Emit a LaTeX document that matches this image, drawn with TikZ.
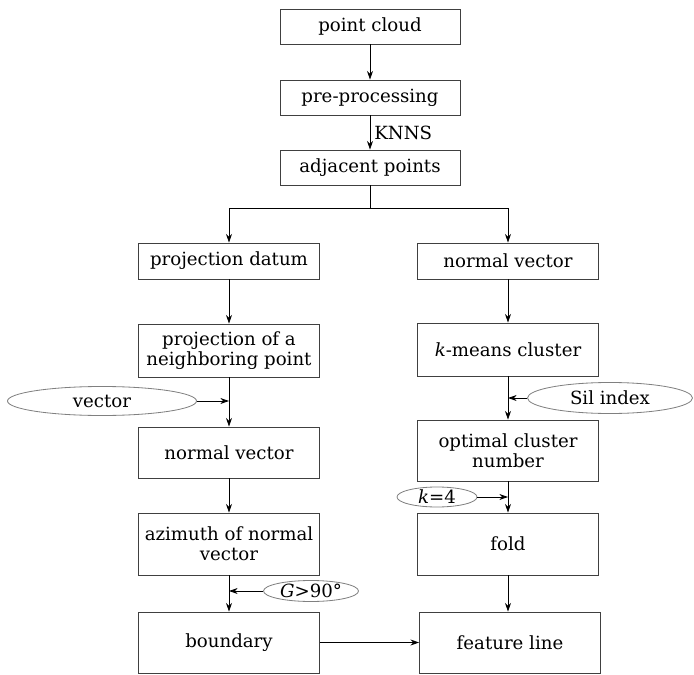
\documentclass[tikz,border=0pt]{standalone}
\usepackage{amsmath}
\usepackage{fontspec}
\setmainfont{DejaVu Serif}
\usepackage{tikz}
\usetikzlibrary{calc, arrows.meta, shapes.geometric}

\begin{document}
\begin{tikzpicture}[x=0.03cm, y=-0.03cm, line width=0.7pt,
   -{Stealth[length=2.6mm, width=1.8mm]},
   box/.style = {draw=black!75, inner sep=0pt, minimum width=5.43cm, align=center,
                 font=\fontsize{15.5}{17}\selectfont},
   oval/.style = {draw=black!50, ellipse, inner sep=0pt, font=\fontsize{15.5}{17}\selectfont}]
   \useasboundingbox (0,0) rectangle (694,675);
   \node[box, minimum width=5.4cm, minimum height=1.05cm]  (cloud) at (370,26.5) {point cloud};
   \node[box, minimum width=5.4cm, minimum height=1.05cm]  (pre)   at (370,97.5) {pre-processing};
   \node[box, minimum width=5.4cm, minimum height=1.05cm]  (adj)   at (370,167.5) {adjacent points};
   %
   \node[box, minimum height=1.08cm]  (datum) at (229,261) {projection datum};
   \node[box, minimum height=1.59cm]  (proj)  at (229,350.5) {projection of a\\ neighboring point};
   \node[box, minimum height=1.53cm]  (nvl)   at (229,452.5) {normal vector};
   \node[box, minimum height=1.86cm]  (azi)   at (229,544) {azimuth of normal\\ vector};
   \node[box, minimum height=1.83cm]  (bound) at (229,642.5) {boundary};
   %
   \node[box, minimum height=1.08cm]  (nvr)   at (508,261) {normal vector};
   \node[box, minimum height=1.59cm]  (kmean) at (508,349.5) {\textit{k}-means cluster};
   \node[box, minimum height=1.83cm]  (opt)   at (508,450.5) {optimal cluster\\ number};
   \node[box, minimum height=1.86cm]  (fold)  at (508,544) {fold};
   \node[box, minimum height=1.83cm]  (feat)  at (510,642.5) {feature line};
   %
   \node[oval, minimum width=5.67cm, minimum height=0.87cm] (vec) at (102,401) {vector};
   \node[oval, minimum width=4.95cm, minimum height=0.93cm] (sil) at (610,398) {Sil index};
   \node[oval, minimum width=2.4cm, minimum height=0.6cm]   (k4)  at (437,497) {\textit{k}=4};
   \node[oval, minimum width=2.85cm, minimum height=0.63cm] (g90) at (311,591) {\textit{G}>90°};
   
   \draw (cloud) -- (pre);
   \draw (pre) -- node[right, font=\fontsize{15.5}{17}\selectfont]{KNNS} (adj);
   \draw[-] (adj.south) -- ++(0,23) coordinate (fork);
   \draw (fork) -| (datum.north);
   \draw (fork) -| (nvr.north);
   %
   \draw (datum) -- (proj);
   \draw (proj) -- (nvl);
   \draw (nvl) -- (azi);
   \draw (azi) -- (bound);
   \draw (vec.east) -- (vec.east -| proj.south);
   \draw (g90.west) -- (g90.west -| azi.south);
   %
   \draw (nvr) -- (kmean);
   \draw (kmean) -- (opt);
   \draw (opt) -- (fold);
   \draw (fold.south) -- (fold.south |- feat.north);
   \draw (sil.west) -- (sil.west -| kmean.south);
   \draw (k4.east) -- (k4.east -| opt.south);
   %
   \draw (bound) -- (feat);
\end{tikzpicture}
\end{document}
